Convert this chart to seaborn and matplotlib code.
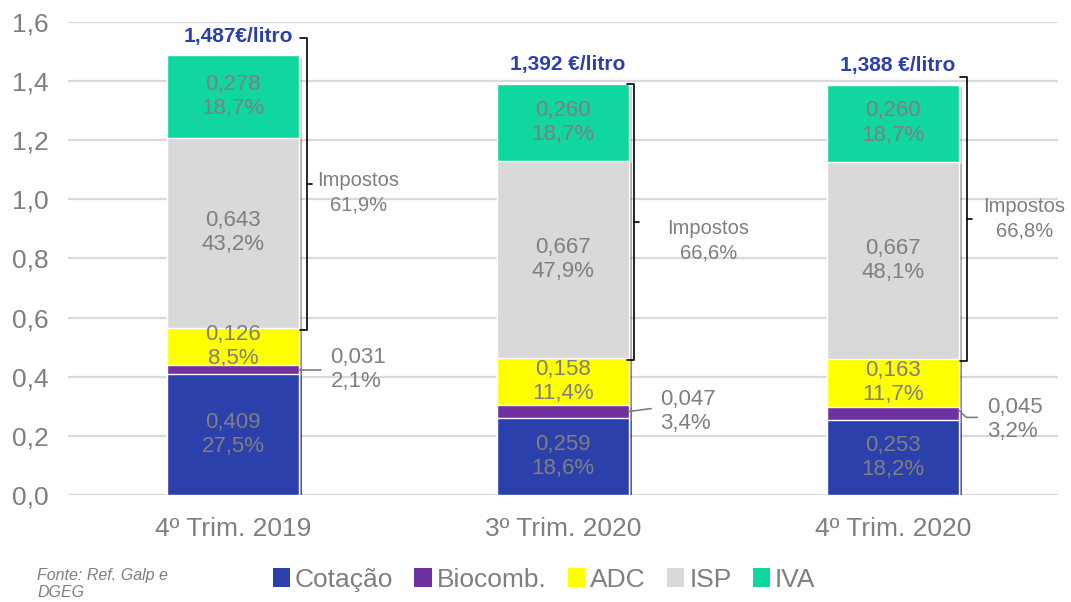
import numpy as np
import pandas as pd
import matplotlib
matplotlib.use("Agg")
import matplotlib.pyplot as plt
import matplotlib.patheffects as pe
from matplotlib.patches import Patch
import seaborn as sns

# --- Data ---
periods = ["4º Trim. 2019", "3º Trim. 2020", "4º Trim. 2020"]
cotacao = [0.409, 0.259, 0.253]
biocomb = [0.031, 0.047, 0.045]
adc = [0.126, 0.158, 0.163]
isp = [0.643, 0.667, 0.667]
iva = [0.278, 0.260, 0.260]

cotacao_pct = ["27,5%", "18,6%", "18,2%"]
biocomb_pct = ["2,1%", "3,4%", "3,2%"]
adc_pct = ["8,5%", "11,4%", "11,7%"]
isp_pct = ["43,2%", "47,9%", "48,1%"]
iva_pct = ["18,7%", "18,7%", "18,7%"]

total_labels = ["1,487€/litro", "1,392 €/litro", "1,388 €/litro"]
impostos_pct = ["61,9%", "66,6%", "66,8%"]

series_names = ["Cotação", "Biocomb.", "ADC", "ISP", "IVA"]
colors = ["#2C40AC", "#7030A0", "#FFFF00", "#D9D9D9", "#10D6A0"]

GRAY = "#7F7F7F"
BLUE = "#2C40AC"
BAR_W = 0.4


def fmt(v, nd=3):
    return f"{v:.{nd}f}".replace(".", ",")


def main():
    sns.set_style("white")
    plt.rcParams["font.family"] = ["Liberation Sans", "DejaVu Sans"]

    layers = [cotacao, biocomb, adc, isp, iva]
    pcts = [cotacao_pct, biocomb_pct, adc_pct, isp_pct, iva_pct]
    cum = np.cumsum(np.array(layers), axis=0)

    df = pd.DataFrame({"periodo": periods})
    for name, c in zip(series_names, cum):
        df[name] = c

    fig = plt.figure(figsize=(10.71, 6.02), dpi=100)
    ax = fig.add_axes([0.0635, 0.1777, 0.9245, 0.7858])

    # stacked bars: draw cumulative totals from the top layer down
    shadow = [pe.SimplePatchShadow(offset=(2, -2), shadow_rgbFace="#000000", alpha=0.18), pe.Normal()]
    for name, col in reversed(list(zip(series_names, colors))):
        sns.barplot(data=df, x="periodo", y=name, order=periods, color=col,
                    width=BAR_W, saturation=1, ax=ax, zorder=2)
    for p in ax.patches:
        p.set_path_effects(shadow)

    ax.set_xlim(-0.5, 2.5)
    ax.set_ylim(0, 1.6)
    ax.set_yticks(np.arange(0, 1.61, 0.2))
    ax.set_yticklabels([fmt(t, 1) for t in np.arange(0, 1.61, 0.2)])
    ax.grid(axis="y", color="#D9D9D9", linewidth=1.6, zorder=0)
    ax.set_axisbelow(True)
    sns.despine(ax=ax, left=True, bottom=True)
    ax.tick_params(axis="both", length=0, labelsize=19, colors=GRAY, pad=10)
    ax.tick_params(axis="y", pad=14)
    ax.tick_params(axis="x", pad=16)
    ax.set_xlabel("")
    ax.set_ylabel("")

    # in-bar labels (Biocomb. is labelled outside the bar)
    for li, (vals, pc) in enumerate(zip(layers, pcts)):
        if li == 1:
            continue
        for i in range(len(periods)):
            mid = cum[li][i] - vals[i] / 2
            ax.text(i, mid, f"{fmt(vals[i])}\n{pc[i]}", ha="center", va="center",
                    fontsize=16, color=GRAY, linespacing=1.2, zorder=4)

    # Biocomb. callouts
    bio_text_dx = [0.095, 0.095, 0.085]
    bio_text_dy = [0.0, 0.0, -0.02]
    for i in range(len(periods)):
        mid = cum[1][i] - biocomb[i] / 2
        x0 = i + BAR_W / 2
        if i == 0:
            xs, ys = [x0, x0 + 0.067], [mid, mid]
        elif i == 1:
            xs, ys = [x0, x0 + 0.067], [mid, mid + 0.01]
        else:
            xs, ys = [x0, x0 + 0.022, x0 + 0.055], [mid + 0.01, mid - 0.013, mid - 0.013]
        ax.plot(xs, ys, color=GRAY, linewidth=1.2, zorder=4)
        ax.text(x0 + bio_text_dx[i], mid + bio_text_dy[i], f"{fmt(biocomb[i])}\n{biocomb_pct[i]}",
                ha="left", va="center", fontsize=16, color=GRAY, linespacing=1.2, zorder=4)

    # total price labels
    for i in range(len(periods)):
        ax.text(i + 0.015, cum[-1][i] + 0.065, total_labels[i], ha="center", va="center",
                fontsize=15, fontweight="bold", color=BLUE, zorder=4)

    # Impostos brackets
    top_pad = [0.06, 0.0, 0.027]
    bx_off = [0.024, 0.015, 0.024]
    txt_dx = [0.155, 0.225, 0.173]
    txt_dy = [-0.03, -0.065, 0.0]
    tick = 0.022
    for i in range(len(periods)):
        bottom = cum[2][i] - 0.007
        top = cum[-1][i] + top_pad[i]
        bx = i + BAR_W / 2 + bx_off[i]
        mid = (top + bottom) / 2
        ax.plot([bx - tick, bx, bx, bx - tick], [top, top, bottom, bottom],
                color="black", linewidth=1.2, zorder=4)
        ax.plot([bx, bx + tick * 0.7], [mid, mid], color="black", linewidth=1.2, zorder=4)
        ax.text(bx + txt_dx[i], mid + txt_dy[i], f"Impostos\n{impostos_pct[i]}", ha="center",
                va="center", fontsize=14.5, color=GRAY, linespacing=1.35, zorder=4)

    # legend
    handles = [Patch(facecolor=c, edgecolor="none") for c in colors]
    fig.legend(handles, series_names, loc="center", bbox_to_anchor=(0.508, 0.037), ncol=5,
               frameon=False, fontsize=19, labelcolor=GRAY, handlelength=0.65, handleheight=0.75,
               handletextpad=0.2, columnspacing=0.8)

    fig.text(0.035, 0.03, "Fonte: Ref. Galp e\nDGEG", fontsize=11.5, style="italic",
             color=GRAY, ha="left", va="center", linespacing=1.15)

    fig.savefig("out.png", dpi=100)
    plt.close(fig)


if __name__ == "__main__":
    main()
